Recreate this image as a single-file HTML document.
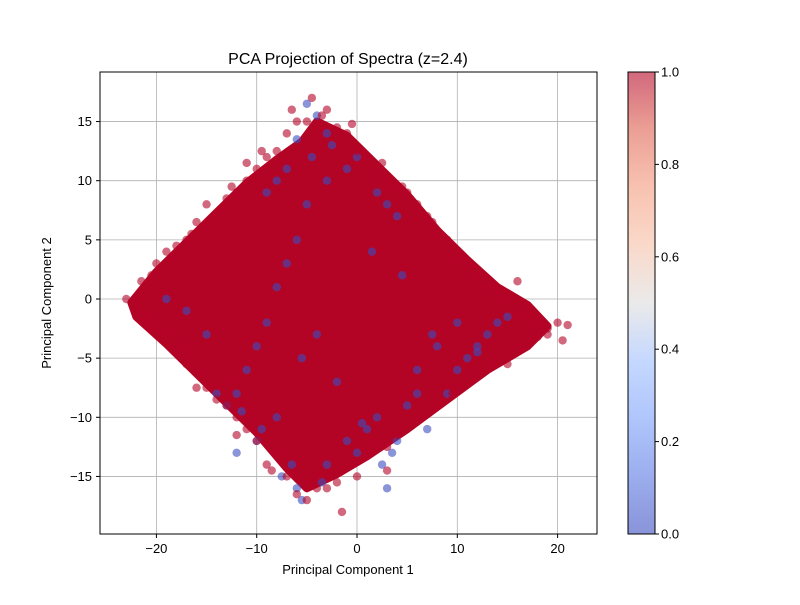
<!DOCTYPE html>
<html><head><meta charset="utf-8">
<style>
body{margin:0;background:#fff;}
svg text{font-family:"Liberation Sans","DejaVu Sans",sans-serif;fill:#000;}
</style></head>
<body>
<svg id="chart" width="800" height="600" xmlns="http://www.w3.org/2000/svg">
<defs>
<linearGradient id="cw" x1="0" y1="1" x2="0" y2="0">
<stop offset="0" stop-color="#3b4cc0"/>
<stop offset="0.125" stop-color="#5977e3"/>
<stop offset="0.25" stop-color="#7b9ff9"/>
<stop offset="0.375" stop-color="#9ebeff"/>
<stop offset="0.5" stop-color="#dddcdc"/>
<stop offset="0.625" stop-color="#f6bfa6"/>
<stop offset="0.75" stop-color="#f49a7b"/>
<stop offset="0.875" stop-color="#de604d"/>
<stop offset="1" stop-color="#b40426"/>
</linearGradient>
<clipPath id="pc"><rect x="100" y="72" width="497" height="462"/></clipPath>
</defs>
<rect x="100" y="72" width="497" height="462" fill="#fff"/>
<g id="grid"></g>
<g id="marks" clip-path="url(#pc)"></g>
<rect x="100" y="72" width="497" height="462" fill="none" stroke="#000" stroke-width="1"/>
<g id="axes"></g>
<text x="348" y="64" font-size="16" text-anchor="middle">PCA Projection of Spectra (z=2.4)</text>
<text x="348" y="574" font-size="13" text-anchor="middle">Principal Component 1</text>
<text transform="translate(51,303) rotate(-90)" font-size="13" text-anchor="middle">Principal Component 2</text>
<rect x="628" y="72" width="27" height="462" fill="url(#cw)" fill-opacity="0.6" stroke="#000" stroke-width="1"/>
<g id="cbar"></g>
</svg>
<script>
const xTicks=[-20,-10,0,10,20];
const yTicks=[-15,-10,-5,0,5,10,15];
const cbTicks=[0.0,0.2,0.4,0.6,0.8,1.0];
// dense core region (data coords), class 1
const coreX=[-22.5,-20,-17,-14,-11,-8,-5.5,-4,-1,2,5,8,11,14,17,19,17,13,9,5,1,-2,-5,-7,-10,-13,-16,-19,-22];
const coreY=[-0.3,2.3,4.8,7.3,9.8,11.8,13.3,15,13.8,11.3,8.8,5.8,3.3,1,-0.5,-2.3,-4,-6,-8.5,-11,-13.3,-14.8,-16,-14.3,-11.3,-8.8,-6.3,-3.8,-1.5];
// edge points, class 1 (red)
const redX=[-23,-21.5,-20,-19,-18,-17,-16,-15,-14,-13,-12,-11,-10,-9,-8,-7,-6,-5,-4.5,-3,-2,-1,0,1,2,3,4,5,6,7,8,9,10,11,12,13,14,15,16,17,18,19,20,21,20.5,19,16,15,14,12,10,8,6,4,2,1,0,-1.5,-3,-4,-5,-6,-7,-8,-9,-10,-11,-12,-13,-14,-15,-16,-17,-18,-19,-20,-21,-6.5,-11,-15,-2,3,-17,-13,-22,-20.5,-18.5,-16.5,-12.5,-9.5,-3.5,-0.5,2.5,4.5,7.5,11.5,16.5,18,13.5,9.5,6.5,3,-0.5,-4,-8.5,-12,-16,-20.5];
const redY=[0,1.5,3,4,4.5,5,6.5,6,7,8.5,9,10,11,12,12.5,14,15,15,17,16,14.5,14,12.5,12,10.5,10,9.5,9,8,7,5.5,5,3.5,3,2,1,0.5,0,1.5,-1,-2,-2.5,-2,-2.2,-3.5,-3,-4,-5.5,-4.5,-6,-7.5,-9,-10,-11.5,-12,-13,-15,-18,-16,-15,-17,-16.5,-15,-13,-14,-12,-11,-10,-9,-8.5,-7.5,-6,-5.5,-4.5,-3,-2.5,-1.5,16,11.5,8,-15.5,-14.5,-3.8,-7,-1,2,3.5,5.5,9.5,12.5,15.5,14.8,11.5,9.5,6.5,2.8,-1.2,-3.2,-5.5,-8,-10,-12.5,-14,-16,-14.5,-11.5,-7.5,-2.5];
// scattered points, class 0 (blue)
const blueX=[-5,-4,-3,-2.5,-6,-4.5,-7,-8,-9,-6.5,-1,0,1,2,3,4,5,6,7,9,10,11,12,13,14,15,2,3,4,-1,0,-3,-5,-6,-7,-8,-9,-10,-11,-12,-13,-5.5,-4,-2,-8,-10,-12,-14,-6,-3,0.5,3.5,6,8,10,12,-7.5,-5.5,-3.5,-9.5,-11.5,1.5,4.5,7.5,-15,-17,-19,2.5];
const blueY=[16.5,15.5,14,13,13.5,12,11,10,9,-14,-12,-13,-11,-10,-16,-12,-9,-8,-11,-8,-6,-5,-4,-3,-2,-1.5,9,8,7,11,12,10,8,5,3,1,-2,-4,-6,-8,-9,-5,-3,-7,-10,-12,-13,-8,-16,-14,-10.5,-13,-6,-4,-2,-4.5,-15,-17,-15.5,-11,-9.5,4,2,-3,-3,-1,0,-14];

const X=v=>357+v*10.03, Y=v=>299-v*11.83, CY=v=>534-v*462;
const ns="http://www.w3.org/2000/svg";
function mk(t,a,p){const e=document.createElementNS(ns,t);for(const k in a)e.setAttribute(k,a[k]);p.appendChild(e);return e;}
const grid=document.getElementById('grid'),axes=document.getElementById('axes'),marks=document.getElementById('marks'),cbar=document.getElementById('cbar');
xTicks.forEach(t=>{
 const g=mk('line',{x1:X(t),x2:X(t),y1:72,y2:534,stroke:'#b0b0b0','stroke-width':0.8},grid);
 
 
 const k=mk('line',{x1:X(t),x2:X(t),y1:534,y2:538,stroke:'#000'},axes);
 
 
 const l=mk('text',{x:X(t),y:553,'font-size':13,'text-anchor':'middle'},axes);
 l.textContent=(t<0?'\u2212':'')+Math.abs(t);
 
 
});
yTicks.forEach(t=>{
 const g=mk('line',{x1:100,x2:597,y1:Y(t),y2:Y(t),stroke:'#b0b0b0','stroke-width':0.8},grid);
 
 
 const k=mk('line',{x1:96,x2:100,y1:Y(t),y2:Y(t),stroke:'#000'},axes);
 
 
 const l=mk('text',{x:92,y:Y(t)+4.5,'font-size':13,'text-anchor':'end'},axes);
 l.textContent=(t<0?'\u2212':'')+Math.abs(t);
 
 
});
cbTicks.forEach(t=>{
 const k=mk('line',{x1:655,x2:659,y1:CY(t),y2:CY(t),stroke:'#000'},cbar);
 
 
 const l=mk('text',{x:661,y:CY(t)+4.5,'font-size':13},cbar);
 l.textContent=t.toFixed(1);
 
 
});
const core=mk('polygon',{points:coreX.map((x,i)=>X(x)+','+Y(coreY[i])).join(' '),fill:'#b40426',stroke:'#b40426','stroke-width':8,'stroke-linejoin':'round'},marks);


blueX.forEach((x,i)=>{
 const c=mk('circle',{cx:X(x),cy:Y(blueY[i]),r:4.2,fill:'#3b4cc0','fill-opacity':0.6},marks);
 
 
});
redX.forEach((x,i)=>{
 const c=mk('circle',{cx:X(x),cy:Y(redY[i]),r:4.2,fill:'#b40426','fill-opacity':0.6},marks);
 
 
});
</script>
</body></html>
